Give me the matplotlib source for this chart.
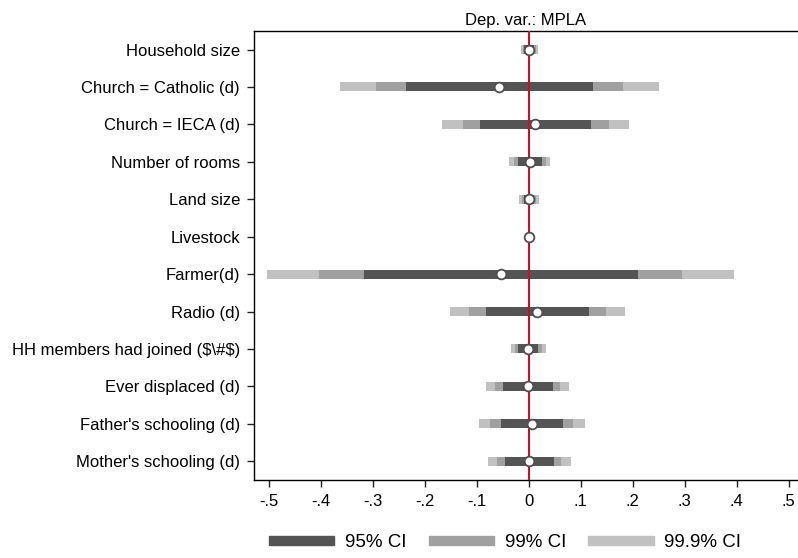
import numpy as np
import matplotlib
matplotlib.use('Agg')
import matplotlib.pyplot as plt
from matplotlib.patches import Patch

plt.rcParams['font.family'] = ['Liberation Sans', 'DejaVu Sans']

# coefficient estimates and confidence bounds
labels = ['Household size', 'Church = Catholic (d)', 'Church = IECA (d)',
          'Number of rooms', 'Land size', 'Livestock', 'Farmer(d)', 'Radio (d)',
          r'HH members had joined (\$\#\$)', 'Ever displaced (d)',
          "Father's schooling (d)", "Mother's schooling (d)"]
coef = [0.0, -0.056, 0.013, 0.002, 0.0, 0.0, -0.054, 0.017, -0.001, -0.002, 0.006, 0.001]
lo95 = [-0.008, -0.236, -0.093, -0.021, -0.009, -0.001, -0.317, -0.082, -0.020, -0.049, -0.054, -0.045]
hi95 = [0.010, 0.124, 0.120, 0.026, 0.010, 0.001, 0.210, 0.116, 0.019, 0.046, 0.066, 0.048]
lo99 = [-0.011, -0.294, -0.127, -0.028, -0.013, -0.001, -0.403, -0.114, -0.026, -0.065, -0.074, -0.061]
hi99 = [0.014, 0.181, 0.154, 0.033, 0.015, 0.001, 0.295, 0.148, 0.026, 0.061, 0.086, 0.063]
lo999 = [-0.014, -0.362, -0.167, -0.037, -0.018, -0.002, -0.503, -0.151, -0.033, -0.082, -0.096, -0.078]
hi999 = [0.018, 0.250, 0.194, 0.041, 0.020, 0.002, 0.395, 0.185, 0.033, 0.078, 0.108, 0.081]
xticks = [-0.5, -0.4, -0.3, -0.2, -0.1, 0, 0.1, 0.2, 0.3, 0.4, 0.5]
xticklabels = ['-.5', '-.4', '-.3', '-.2', '-.1', '0', '.1', '.2', '.3', '.4', '.5']

c95, c99, c999 = '#545454', '#a0a0a0', '#c1c1c1'

fig = plt.figure(figsize=(7.98, 5.58), dpi=100)
ax = fig.add_axes([0.3183, 0.1398, 0.6817, 0.805])

y = np.arange(len(labels))
h = 0.24
lo95, hi95 = np.array(lo95), np.array(hi95)
lo99, hi99 = np.array(lo99), np.array(hi99)
lo999, hi999 = np.array(lo999), np.array(hi999)
ax.barh(y, hi999 - lo999, left=lo999, height=h, color=c999, zorder=2)
ax.barh(y, hi99 - lo99, left=lo99, height=h, color=c99, zorder=3)
ax.barh(y, hi95 - lo95, left=lo95, height=h, color=c95, zorder=4)
ax.axvline(0, color='#c8102e', lw=1.5, zorder=5)
ax.plot(coef, y, 'o', ms=7, mfc='white', mec='#505050', mew=1.3, zorder=6, ls='none')

ax.set_ylim(len(labels) - 0.5, -0.5)
ax.set_xlim(-0.528, 0.518)
ax.set_yticks(y)
ax.set_yticklabels(labels, fontsize=12)
ax.set_xticks(xticks)
ax.set_xticklabels(xticklabels, fontsize=12)
ax.tick_params(axis='both', length=5, width=1, color='#222222', pad=5)
ax.spines['right'].set_visible(False)
for s in ['left', 'top', 'bottom']:
    ax.spines[s].set_linewidth(1)
ax.set_title('Dep. var.: MPLA', fontsize=12, pad=4)

handles = [Patch(color=c95, label='95% CI'), Patch(color=c99, label='99% CI'),
           Patch(color=c999, label='99.9% CI')]
fig.legend(handles=handles, loc='center', bbox_to_anchor=(505 / 798, 0.027), ncol=3,
           frameon=False, fontsize=13.5, handlelength=3.5, handleheight=0.4,
           handletextpad=0.55, columnspacing=1.2)

fig.savefig('out.png', dpi=100)
